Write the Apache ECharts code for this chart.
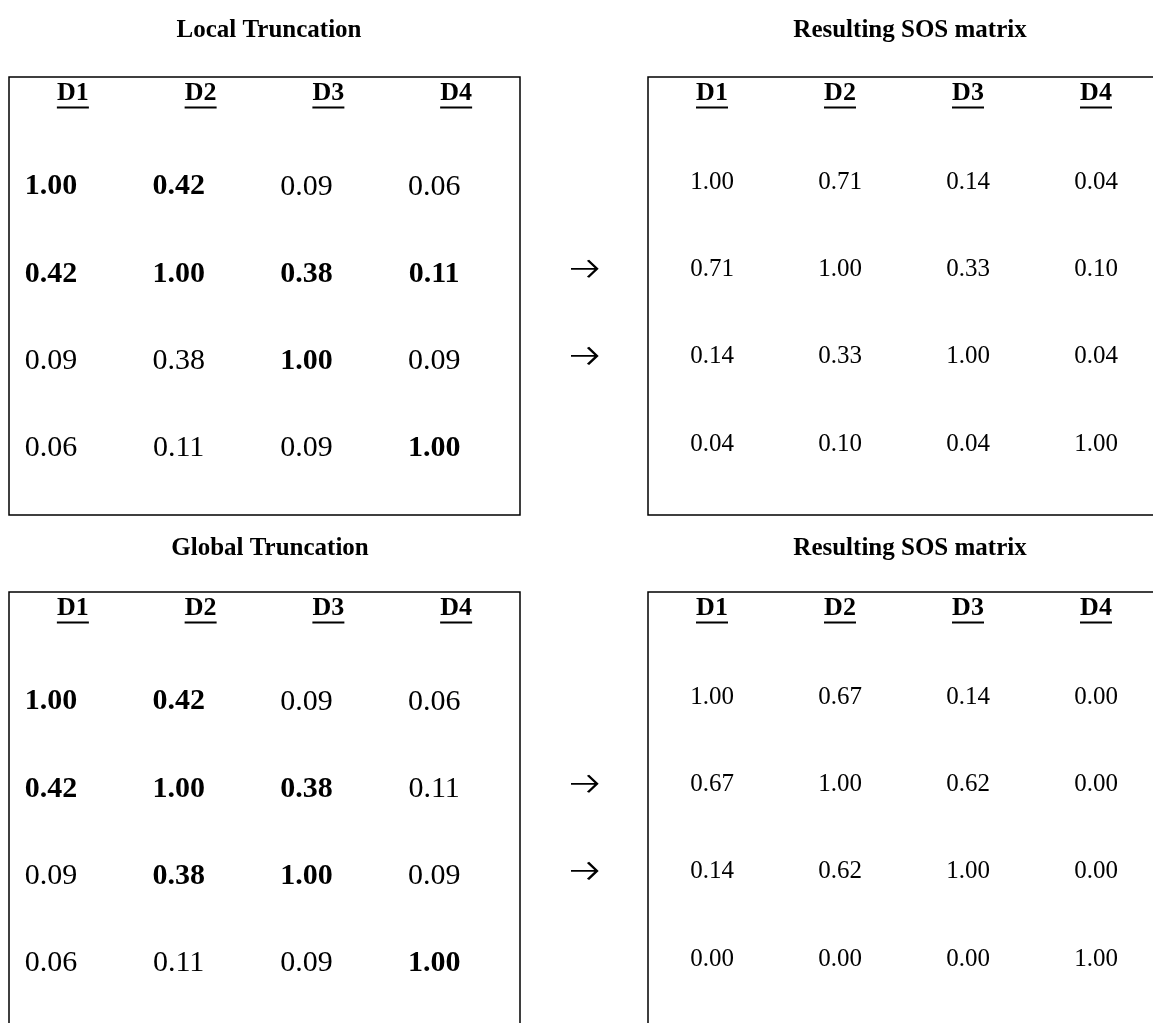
<!DOCTYPE html>
<html>
<head>
<meta charset="utf-8">
<script src="https://cdn.jsdelivr.net/npm/echarts@6/dist/echarts.min.js"></script>
<style>
html,body{margin:0;padding:0;background:#fff;}
#chart{width:1153px;height:1023px;}
</style>
</head>
<body>
<div id="chart"></div>
<script>
// ---------- data ----------
const headers = ['D1', 'D2', 'D3', 'D4'];
const titles = ['Local Truncation', 'Resulting SOS matrix', 'Global Truncation', 'Resulting SOS matrix'];

const localTrunc = [
  [1.00, 0.42, 0.09, 0.06],
  [0.42, 1.00, 0.38, 0.11],
  [0.09, 0.38, 1.00, 0.09],
  [0.06, 0.11, 0.09, 1.00]
];
const localBold = [
  [1, 1, 0, 0],
  [1, 1, 1, 1],
  [0, 0, 1, 0],
  [0, 0, 0, 1]
];
const localSOS = [
  [1.00, 0.71, 0.14, 0.04],
  [0.71, 1.00, 0.33, 0.10],
  [0.14, 0.33, 1.00, 0.04],
  [0.04, 0.10, 0.04, 1.00]
];
const globalTrunc = [
  [1.00, 0.42, 0.09, 0.06],
  [0.42, 1.00, 0.38, 0.11],
  [0.09, 0.38, 1.00, 0.09],
  [0.06, 0.11, 0.09, 1.00]
];
const globalBold = [
  [1, 1, 0, 0],
  [1, 1, 1, 0],
  [0, 1, 1, 0],
  [0, 0, 0, 1]
];
const globalSOS = [
  [1.00, 0.67, 0.14, 0.00],
  [0.67, 1.00, 0.62, 0.00],
  [0.14, 0.62, 1.00, 0.00],
  [0.00, 0.00, 0.00, 1.00]
];
const arrowRows = [1, 2];

// ---------- build ----------
const FONT = '"Liberation Serif", "Times New Roman", serif';
const UNIT = 87.08;      // px per row
const ROW0 = 1.26;       // rows of space above the first data row
const ARROW_PATH = 'path://M0,8.5 L26,8.5 M17,0 L26,8.5 L17,17';

function cells(matrix, bold) {
  const out = [];
  matrix.forEach((row, r) => row.forEach((v, c) => {
    out.push({ value: [c, r, v], bold: bold ? bold[r][c] : 0 });
  }));
  return out;
}

const tableGrids = [
  { left: 9, top: 77, width: 511, height: 438 },
  { left: 648, top: 77, width: 512, height: 438 },
  { left: 9, top: 592, width: 511, height: 470 },
  { left: 648, top: 592, width: 512, height: 470 }
];
const arrowGrids = [
  { left: 520, top: 77, width: 128, height: 438 },
  { left: 520, top: 592, width: 128, height: 470 }
];
const allGrids = tableGrids.concat(arrowGrids);

const grid = tableGrids.map(g => Object.assign({}, g, {
  show: true, borderColor: '#000', borderWidth: 1.5, backgroundColor: 'transparent',
  containLabel: false, outerBoundsMode: 'none'
})).concat(arrowGrids.map(g => Object.assign({}, g, { show: false, outerBoundsMode: 'none' })));

const xAxis = [];
const yAxis = [];
for (let i = 0; i < 4; i++) {
  xAxis.push({
    type: 'category', gridIndex: i, data: headers, position: 'top',
    axisLine: { show: false }, axisTick: { show: false }, splitLine: { show: false },
    axisLabel: {
      inside: true, margin: 3, interval: 0, color: '#000',
      formatter: v => '{t|' + v + '}\n{u| }',
      rich: {
        t: { fontFamily: FONT, fontWeight: 'bold', fontSize: 26, lineHeight: 26, color: '#000', align: 'center' },
        u: { width: 32, height: 2, lineHeight: 3, fontSize: 1, backgroundColor: '#000', align: 'center' }
      }
    }
  });
}
for (let i = 4; i < 6; i++) {
  xAxis.push({ type: 'category', gridIndex: i, data: [''], show: false });
}
for (let i = 0; i < 6; i++) {
  const h = allGrids[i].height;
  yAxis.push({
    type: 'value', gridIndex: i, inverse: true, min: -ROW0, max: h / UNIT - ROW0, show: false,
    splitLine: { show: false }
  });
}

function tableSeries(idx, matrix, bold, big) {
  return {
    type: 'scatter', xAxisIndex: idx, yAxisIndex: idx, symbolSize: 0,
    data: cells(matrix, bold), silent: true,
    label: {
      show: true, position: 'inside', color: '#000', opacity: 1,
      offset: big ? [-22, 0] : [0, -4],
      formatter: p => (p.data.bold ? '{b|' : '{n|') + p.data.value[2].toFixed(2) + '}',
      rich: {
        b: { fontFamily: FONT, fontWeight: 'bold', fontSize: big ? 30 : 25, color: '#000' },
        n: { fontFamily: FONT, fontWeight: 'normal', fontSize: big ? 30 : 25, color: '#000' }
      }
    }
  };
}
function arrowSeries(idx) {
  return {
    type: 'scatter', xAxisIndex: idx, yAxisIndex: idx, silent: true,
    data: arrowRows.map(r => [0, r]),
    symbol: ARROW_PATH, symbolSize: [26, 17], symbolOffset: [0, -5],
    itemStyle: { color: 'none', borderColor: '#000', borderWidth: 2.2, opacity: 1 }
  };
}

const titleCenters = [[264, 13], [905, 13], [265, 531], [905, 531]];
const title = titles.map((t, i) => ({
  text: t, left: titleCenters[i][0], top: titleCenters[i][1], textAlign: 'center',
  textStyle: { fontFamily: FONT, fontWeight: 'bold', fontSize: 25, color: '#000' }
}));

const option = {
  backgroundColor: '#fff',
  animation: false,
  title: title,
  grid: grid,
  xAxis: xAxis,
  yAxis: yAxis,
  series: [
    tableSeries(0, localTrunc, localBold, true),
    tableSeries(1, localSOS, null, false),
    tableSeries(2, globalTrunc, globalBold, true),
    tableSeries(3, globalSOS, null, false),
    arrowSeries(4),
    arrowSeries(5)
  ]
};

const chart = echarts.init(document.getElementById('chart'), null, { renderer: 'canvas' });
chart.setOption(option);
</script>
</body>
</html>
